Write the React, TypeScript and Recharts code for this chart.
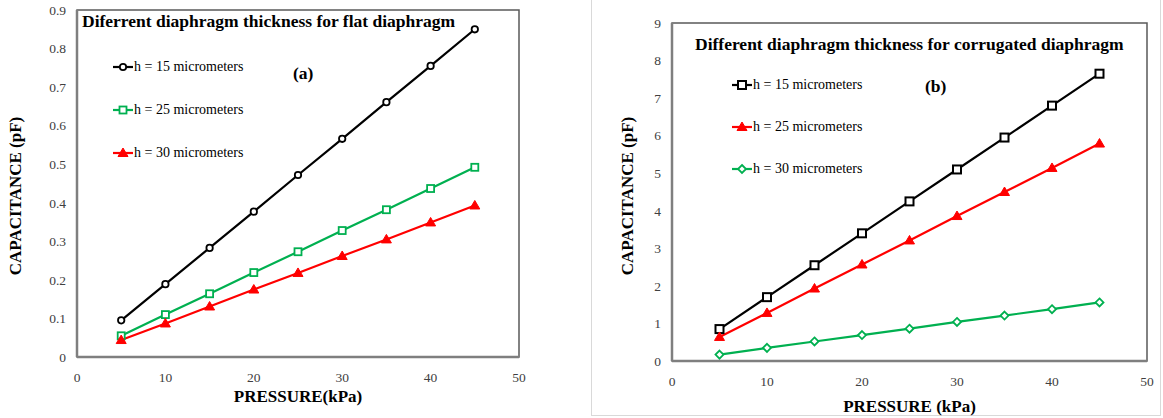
import { LineChart, Line, XAxis, YAxis, Legend, ReferenceArea } from "recharts";

const pressure = [5, 10, 15, 20, 25, 30, 35, 40, 45];

// (a) flat diaphragm
const flatH15 = [0.095, 0.189, 0.283, 0.377, 0.472, 0.566, 0.661, 0.755, 0.85];
const flatH25 = [0.055, 0.11, 0.164, 0.219, 0.273, 0.328, 0.382, 0.437, 0.492];
const flatH30 = [0.044, 0.087, 0.131, 0.175, 0.218, 0.262, 0.305, 0.349, 0.393];

// (b) corrugated diaphragm
const corrH15 = [0.85, 1.7, 2.55, 3.4, 4.25, 5.1, 5.95, 6.8, 7.65];
const corrH25 = [0.64, 1.28, 1.93, 2.57, 3.21, 3.86, 4.5, 5.14, 5.79];
const corrH30 = [0.17, 0.35, 0.52, 0.69, 0.86, 1.04, 1.21, 1.38, 1.56];

const xTicks = [0, 10, 20, 30, 40, 50];
const flatYTicks = [0, 0.1, 0.2, 0.3, 0.4, 0.5, 0.6, 0.7, 0.8, 0.9];
const corrYTicks = [0, 1, 2, 3, 4, 5, 6, 7, 8, 9];

const seriesNames = ["h = 15 micrometers", "h = 25 micrometers", "h = 30 micrometers"];

const flatData = pressure.map((p, i) => ({ p, h15: flatH15[i], h25: flatH25[i], h30: flatH30[i] }));
const corrData = pressure.map((p, i) => ({ p, h15: corrH15[i], h25: corrH25[i], h30: corrH30[i] }));

const FONT = "'Liberation Serif', 'Times New Roman', serif";
const BLACK = "#000000";
const GREEN = "#00b050";
const RED = "#ff0000";

type Kind = "circle" | "square" | "bigSquare" | "triangle" | "diamond";

function Marker({ kind, cx, cy, color }: { kind: Kind; cx: number; cy: number; color: string }) {
  if (cx == null || cy == null) return null;
  switch (kind) {
    case "circle":
      return <circle cx={cx} cy={cy} r={3.2} fill="#fff" stroke={color} strokeWidth={1.8} />;
    case "square":
      return <rect x={cx - 3.5} y={cy - 3.5} width={7} height={7} fill="#fff" stroke={color} strokeWidth={1.8} />;
    case "bigSquare":
      return <rect x={cx - 4} y={cy - 4} width={8} height={8} fill="#fff" stroke={color} strokeWidth={2} />;
    case "triangle":
      return <polygon points={`${cx},${cy - 5} ${cx + 5},${cy + 3.5} ${cx - 5},${cy + 3.5}`} fill={color} stroke={color} strokeWidth={1} />;
    case "diamond":
      return <polygon points={`${cx},${cy - 4} ${cx + 4},${cy} ${cx},${cy + 4} ${cx - 4},${cy}`} fill="#fff" stroke={color} strokeWidth={1.8} />;
  }
}

const dotOf = (kind: Kind, color: string) => (props: any) => (
  <Marker key={`${kind}-${props.index}`} kind={kind} cx={props.cx} cy={props.cy} color={color} />
);

function KeyList({ items, gap }: { items: { kind: Kind; color: string; name: string }[]; gap: number }) {
  return (
    <div style={{ fontFamily: FONT, fontSize: 14, color: "#000" }}>
      {items.map((it) => (
        <div key={it.name} style={{ height: gap, display: "flex", alignItems: "center", whiteSpace: "nowrap" }}>
          <svg width={20} height={12} style={{ marginRight: 1 }}>
            <line x1={0} y1={6} x2={20} y2={6} stroke={it.color} strokeWidth={2.2} />
            <Marker kind={it.kind} cx={10} cy={6} color={it.color} />
          </svg>
          <span>{it.name}</span>
        </div>
      ))}
    </div>
  );
}

const tickStyle = { fill: "#404040", fontSize: 13.5, fontFamily: FONT };

function Panel(props: {
  data: any[];
  width: number;
  margin: { top: number; right: number; left: number; bottom: number };
  yAxisWidth: number;
  xAxisHeight: number;
  yMax: number;
  yTicks: number[];
  kinds: [Kind, Kind, Kind];
  colors: [string, string, string];
  xTitle: string;
  xTitleOffset: number;
  yTitleX: number;
  yTitleY: number;
  legendLeft: number;
  legendTop: number;
  legendGap: number;
}) {
  const keys = ["h15", "h25", "h30"];
  const items = keys.map((k, i) => ({ kind: props.kinds[i], color: props.colors[i], name: seriesNames[i] }));
  return (
    <LineChart width={props.width} height={418} data={props.data} margin={props.margin}>
      <ReferenceArea x1={0} x2={50} y1={0} y2={props.yMax} fill="none" stroke="#5a5a5a" strokeWidth={1.5} />
      <XAxis
        type="number"
        dataKey="p"
        domain={[0, 50]}
        ticks={xTicks}
        interval={0}
        height={props.xAxisHeight}
        axisLine={{ stroke: "#7f7f7f", strokeWidth: 2.5 }}
        tickLine={false}
        tick={tickStyle}
        tickMargin={9}
        label={(lp: any) => {
          const vb = lp.viewBox;
          return (
            <text
              x={vb.x + vb.width / 2}
              y={vb.y + props.xTitleOffset}
              textAnchor="middle"
              dominantBaseline="central"
              fontFamily={FONT}
              fontWeight="bold"
              fontSize={17}
              fill="#000"
            >
              {props.xTitle}
            </text>
          );
        }}
      />
      <YAxis
        type="number"
        domain={[0, props.yMax]}
        ticks={props.yTicks}
        interval={0}
        width={props.yAxisWidth}
        axisLine={{ stroke: "#7f7f7f", strokeWidth: 2.5 }}
        tickLine={false}
        tick={tickStyle}
        tickMargin={5}
        label={() => (
          <text
            x={props.yTitleX}
            y={props.yTitleY}
            transform={`rotate(-90 ${props.yTitleX} ${props.yTitleY})`}
            textAnchor="middle"
            dominantBaseline="central"
            fontFamily={FONT}
            fontWeight="bold"
            fontSize={17}
            fill="#000"
          >
            CAPACITANCE (pF)
          </text>
        )}
      />
      <Legend
        layout="vertical"
        align="center"
        verticalAlign="middle"
        wrapperStyle={{ left: props.legendLeft, top: props.legendTop, width: "auto" }}
        content={() => <KeyList items={items} gap={props.legendGap} />}
      />
      {keys.map((k, i) => (
        <Line
          key={k}
          dataKey={k}
          name={seriesNames[i]}
          stroke={props.colors[i]}
          strokeWidth={2.2}
          dot={dotOf(props.kinds[i], props.colors[i])}
          isAnimationActive={false}
        />
      ))}
    </LineChart>
  );
}

const titleStyle: React.CSSProperties = {
  position: "absolute",
  fontFamily: FONT,
  fontWeight: "bold",
  fontSize: 17.5,
  color: "#000",
  whiteSpace: "nowrap",
  lineHeight: "20px",
};

export default function App() {
  return (
    <div style={{ position: "absolute", left: 0, top: 0, width: 1163, height: 418, background: "#fff", overflow: "hidden" }}>
      <div style={{ position: "absolute", left: 0, top: 0 }}>
        <Panel
          data={flatData}
          width={560}
          margin={{ top: 10, right: 41, left: 0, bottom: 0 }}
          yAxisWidth={77}
          xAxisHeight={61}
          yMax={0.9}
          yTicks={flatYTicks}
          kinds={["circle", "square", "triangle"]}
          colors={[BLACK, GREEN, RED]}
          xTitle="PRESSURE(kPa)"
          xTitleOffset={39}
          yTitleX={15}
          yTitleY={196}
          legendLeft={113}
          legendTop={45.5}
          legendGap={43}
        />
      </div>
      <div style={{ ...titleStyle, left: 82, top: 11 }}>Diferrent diaphragm thickness for flat diaphragm</div>
      <div style={{ ...titleStyle, left: 293, top: 63 }}>(a)</div>

      <div style={{ position: "absolute", left: 591, top: -1, width: 570, height: 417, border: "1px solid #d9d9d9", boxSizing: "border-box" }} />
      <div style={{ position: "absolute", left: 591, top: 0 }}>
        <Panel
          data={corrData}
          width={572}
          margin={{ top: 23, right: 16, left: 0, bottom: 0 }}
          yAxisWidth={81}
          xAxisHeight={57}
          yMax={9}
          yTicks={corrYTicks}
          kinds={["bigSquare", "triangle", "diamond"]}
          colors={[BLACK, RED, GREEN]}
          xTitle="PRESSURE (kPa)"
          xTitleOffset={45}
          yTitleX={36}
          yTitleY={196}
          legendLeft={141}
          legendTop={64}
          legendGap={42}
        />
      </div>
      <div style={{ ...titleStyle, left: 695, top: 33.5 }}>Different diaphragm thickness for corrugated diaphragm</div>
      <div style={{ ...titleStyle, left: 925, top: 76 }}>(b)</div>
    </div>
  );
}
